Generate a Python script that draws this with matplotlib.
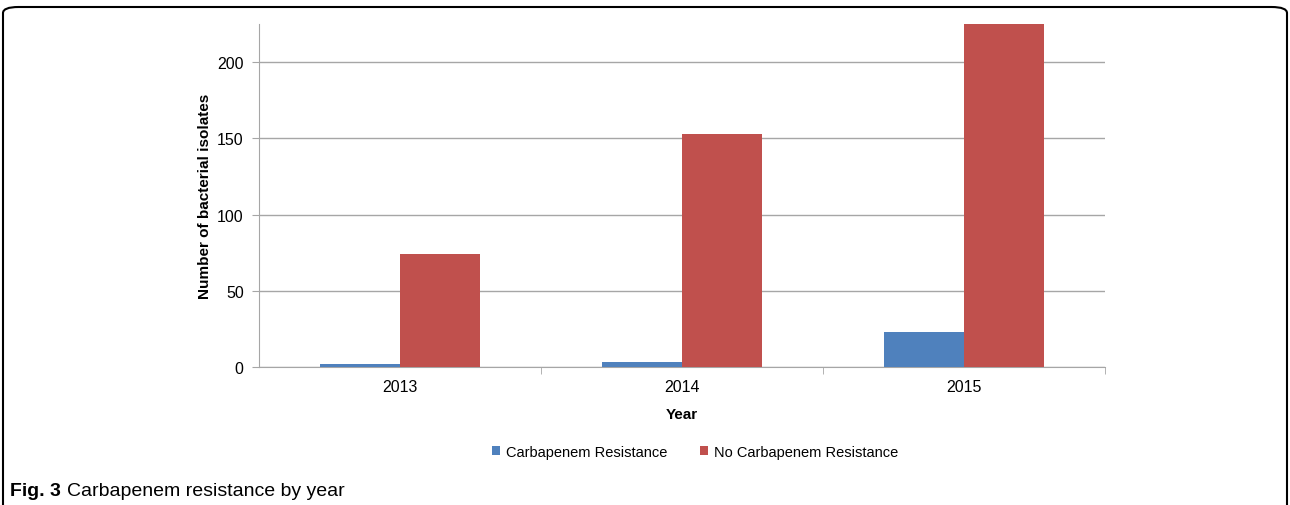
import matplotlib.pyplot as plt
import numpy as np
from matplotlib.patches import FancyBboxPatch

plt.rcParams['font.family'] = ['Liberation Sans', 'DejaVu Sans']

# data
years = ['2013', '2014', '2015']
carbapenem = [2, 3, 23]
no_carbapenem = [74, 153, 225]

blue = '#4F81BD'
red = '#C0504D'
gray = '#A6A6A6'

fig = plt.figure(figsize=(12.9, 5.06), dpi=100)
ax = fig.add_axes([259/1290, 1-368/506, (1105-259)/1290, (368-25)/506])

x = np.arange(len(years))
w = 0.285
ax.bar(x - w/2, carbapenem, w, color=blue, label='Carbapenem Resistance', zorder=3)
ax.bar(x + w/2, no_carbapenem, w, color=red, label='No Carbapenem Resistance', zorder=3)

ax.set_xlim(-0.5, 2.5)
ax.set_ylim(0, 225)
ax.set_yticks([0, 50, 100, 150, 200])
ax.set_xticks(x)
ax.set_xticklabels(years)
ax.set_xticks([0.5, 1.5, 2.5], minor=True)
ax.tick_params(axis='x', which='major', length=0, pad=9, labelsize=11.5)
ax.tick_params(axis='x', which='minor', length=5, color=gray, direction='out')
ax.tick_params(axis='y', length=5, color=gray, direction='out', pad=6, labelsize=11.5)
ax.grid(axis='y', color=gray, linewidth=1, zorder=0)
for s in ['top', 'right']:
    ax.spines[s].set_visible(False)
for s in ['left', 'bottom']:
    ax.spines[s].set_color(gray)

ax.set_xlabel('Year', fontsize=11, fontweight='bold', labelpad=9)
ax.set_ylabel('Number of bacterial isolates', fontsize=11, fontweight='bold', labelpad=4)

fig.legend(loc='center', bbox_to_anchor=(695/1290, 1-453/506), ncol=2, frameon=False,
           fontsize=10.5, handlelength=0.6, handleheight=0.6, handletextpad=0.4,
           columnspacing=2.2)

# caption: bold label then normal text right after it
t1 = fig.text(10/1290, 1-492/506, 'Fig. 3', fontsize=14, fontweight='bold', va='center')
fig.canvas.draw()
bb = t1.get_window_extent()
fig.text((bb.x1 + 6)/1290, 1-492/506, 'Carbapenem resistance by year', fontsize=14, va='center')

frame = FancyBboxPatch((3/1290, -0.02), 1284/1290, 1-8/506 + 0.02,
                       boxstyle='round,pad=0,rounding_size=0.012',
                       transform=fig.transFigure, fill=False, edgecolor='black',
                       linewidth=1.5)
fig.patches.append(frame)

fig.savefig('out.png', dpi=100, facecolor='white')
